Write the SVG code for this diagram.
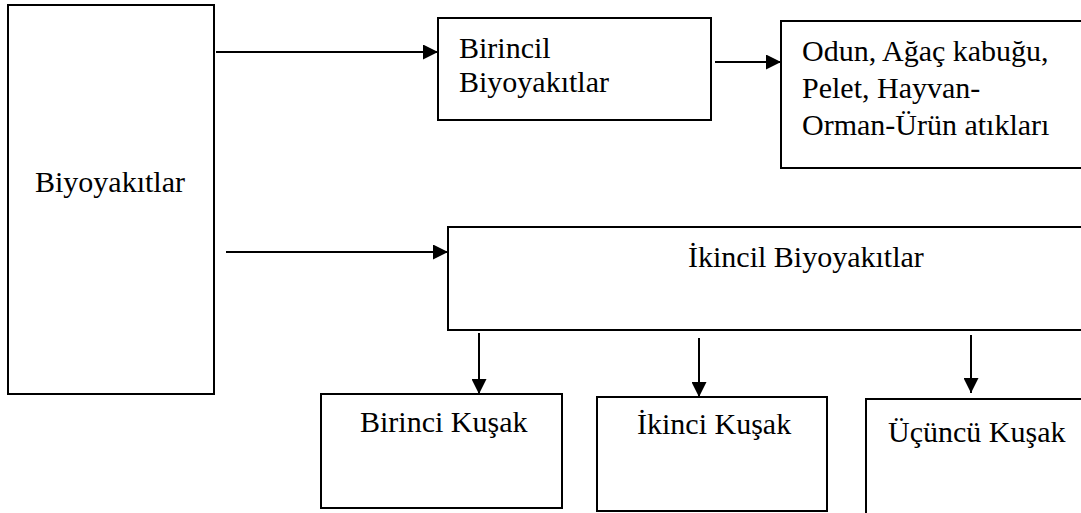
<svg xmlns="http://www.w3.org/2000/svg" width="1081" height="513" viewBox="0 0 1081 513">
  <style>
    .box { fill: #ffffff; stroke: #000000; stroke-width: 2; }
    .lbl { font-family: "Liberation Serif", "Times New Roman", serif; font-size: 30px; fill: #000000; }
    .conn { stroke: #000000; stroke-width: 2; fill: none; marker-end: url(#head); }
  </style>
  <defs>
    <marker id="head" markerUnits="userSpaceOnUse" markerWidth="15" markerHeight="15" refX="15" refY="7.5" orient="auto">
      <path d="M0,0 L15,7.5 L0,15 z" fill="#000000"/>
    </marker>
  </defs>
  <rect width="1081" height="513" fill="#ffffff"/>

  <!-- root -->
  <g id="biyoyakitlar">
    <rect class="box" x="8" y="5" width="206" height="389"/>
    <text class="lbl" x="35" y="192">Biyoyakıtlar</text>
  </g>

  <!-- primary branch -->
  <g id="birincil">
    <rect class="box" x="438" y="18" width="273" height="102"/>
    <text class="lbl" x="459" y="58">Birincil</text>
    <text class="lbl" x="459" y="92">Biyoyakıtlar</text>
  </g>

  <g id="odun">
    <rect class="box" x="781" y="21" width="310" height="147"/>
    <text class="lbl" x="802" y="61">Odun, Ağaç kabuğu,</text>
    <text class="lbl" x="802" y="98">Pelet, Hayvan-</text>
    <text class="lbl" x="802" y="135">Orman-Ürün atıkları</text>
  </g>

  <!-- secondary branch -->
  <g id="ikincil">
    <rect class="box" x="448" y="227" width="643" height="103"/>
    <text class="lbl" x="688" y="267">İkincil Biyoyakıtlar</text>
  </g>

  <g id="birinci-kusak">
    <rect class="box" x="321" y="394" width="241" height="114"/>
    <text class="lbl" x="360" y="432">Birinci Kuşak</text>
  </g>

  <g id="ikinci-kusak">
    <rect class="box" x="597" y="397" width="230" height="114"/>
    <text class="lbl" x="637" y="434">İkinci Kuşak</text>
  </g>

  <g id="ucuncu-kusak">
    <rect class="box" x="866" y="399" width="225" height="120"/>
    <text class="lbl" x="888" y="442">Üçüncü Kuşak</text>
  </g>

  <!-- connectors -->
  <g id="connectors">
    <line class="conn" x1="216" y1="52" x2="438" y2="52"/>
    <line class="conn" x1="715" y1="62" x2="781" y2="62"/>
    <line class="conn" x1="226" y1="252" x2="448" y2="252"/>
    <line class="conn" x1="479" y1="333" x2="479" y2="394"/>
    <line class="conn" x1="699" y1="338" x2="699" y2="397"/>
    <line class="conn" x1="971" y1="335" x2="971" y2="393"/>
  </g>
</svg>
